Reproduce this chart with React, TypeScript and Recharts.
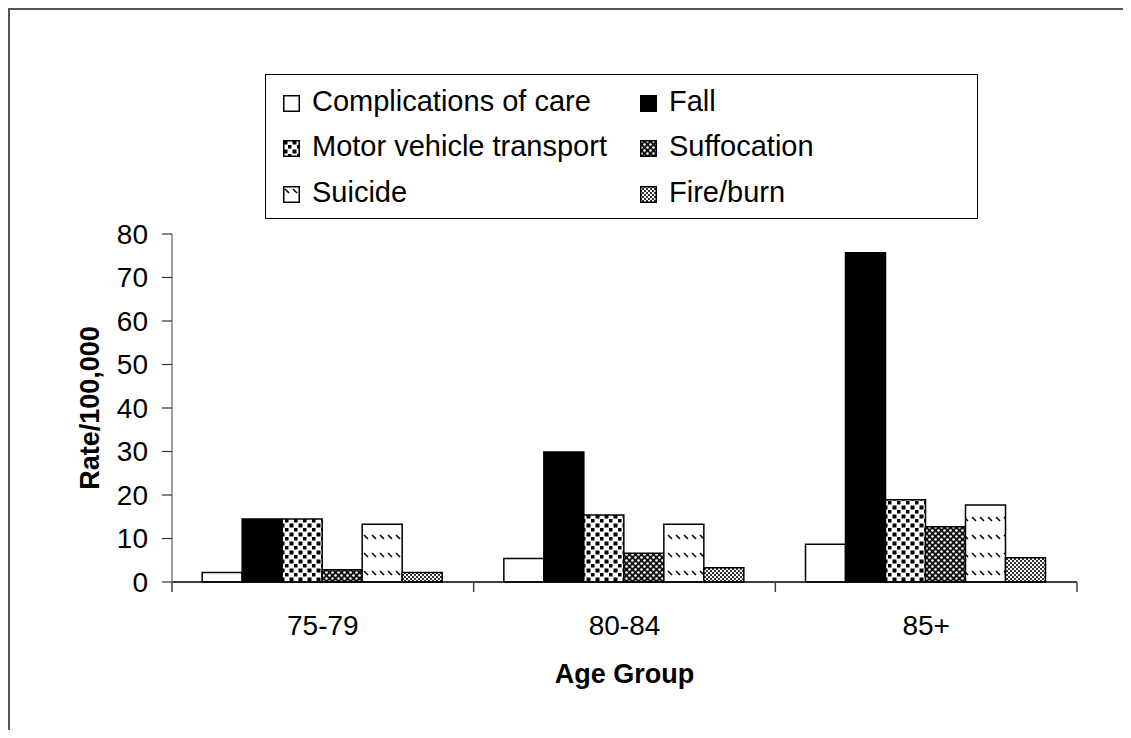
import React from 'react';
import { BarChart, Bar, XAxis, YAxis, Legend } from 'recharts';

const categories = ['75-79', '80-84', '85+'];
const complications = [2.2, 5.4, 8.7];
const fall = [14.5, 29.9, 75.7];
const motorVehicle = [14.5, 15.4, 18.9];
const suffocation = [2.8, 6.6, 12.7];
const suicide = [13.3, 13.3, 17.7];
const fireBurn = [2.2, 3.3, 5.6];
const yTicks = [0, 10, 20, 30, 40, 50, 60, 70, 80];

const series = [
  { key: 'complications', name: 'Complications of care', fill: '#ffffff' },
  { key: 'fall', name: 'Fall', fill: '#000000' },
  { key: 'motorVehicle', name: 'Motor vehicle transport', fill: 'url(#patMvt)' },
  { key: 'suffocation', name: 'Suffocation', fill: 'url(#patSuff)' },
  { key: 'suicide', name: 'Suicide', fill: 'url(#patSuicide)' },
  { key: 'fireBurn', name: 'Fire/burn', fill: 'url(#patFire)' },
];

const data = categories.map((age, i) => ({
  age,
  complications: complications[i],
  fall: fall[i],
  motorVehicle: motorVehicle[i],
  suffocation: suffocation[i],
  suicide: suicide[i],
  fireBurn: fireBurn[i],
}));

const FONT = '"Liberation Sans", Arial, sans-serif';

// legend order: left column, right column
const legendOrder = [
  ['complications', 'fall'],
  ['motorVehicle', 'suffocation'],
  ['suicide', 'fireBurn'],
];

function LegendBox() {
  const rowY = [26, 71, 117];
  const colX = [17, 374];
  return (
    <div
      style={{
        position: 'relative',
        width: 713,
        height: 145,
        boxSizing: 'border-box',
        border: '1px solid #000',
        background: '#fff',
        fontFamily: FONT,
        fontSize: 29,
        color: '#000',
      }}
    >
      {legendOrder.map((row, r) =>
        row.map((key, c) => {
          const s = series.find((d) => d.key === key)!;
          return (
            <div
              key={key}
              style={{
                position: 'absolute',
                left: colX[c],
                top: rowY[r] - 20,
                height: 40,
                display: 'flex',
                alignItems: 'center',
                whiteSpace: 'nowrap',
              }}
            >
              <svg width={17} height={17} style={{ marginRight: 12, marginTop: 4 }}>
                <rect x={0.75} y={0.75} width={15.5} height={15.5} fill={s.fill} stroke="#000" strokeWidth={1.5} />
              </svg>
              <span>{s.name}</span>
            </div>
          );
        })
      )}
    </div>
  );
}

function AgeTick(props: any) {
  const { x, y, payload, index, visibleTicksCount } = props;
  const half = payload.offset || 0;
  return (
    <g>
      <line x1={x - half} y1={y} x2={x - half} y2={y + 10} stroke="#444" strokeWidth={1.5} />
      {index === visibleTicksCount - 1 && (
        <line x1={x + half} y1={y} x2={x + half} y2={y + 10} stroke="#444" strokeWidth={1.5} />
      )}
      <text x={x} y={y + 53} textAnchor="middle" fontFamily={FONT} fontSize={28} fill="#000">
        {payload.value}
      </text>
    </g>
  );
}

export default function App() {
  return (
    <div
      style={{
        position: 'relative',
        width: 1115,
        height: 722,
        boxSizing: 'border-box',
        borderLeft: '2px solid #555',
        borderTop: '2px solid #555',
        background: '#fff',
      }}
    >
      {/* top frame line runs past the window edge */}
      <div style={{ position: 'absolute', left: 0, top: -2, width: 1113, height: 2, boxShadow: '8px 0 0 #555' }} />
      <BarChart
        width={1113}
        height={720}
        data={data}
        margin={{ top: 224, right: 46, bottom: 47, left: 0 }}
        barCategoryGap="10%"
        barGap={0}
      >
        <defs>
          <pattern id="patMvt" width={9} height={9} patternUnits="userSpaceOnUse">
            <rect width={9} height={9} fill="#fff" />
            <rect x={0.5} y={0.5} width={4} height={4} fill="#000" />
            <rect x={5} y={5} width={3.5} height={3.5} fill="#000" />
          </pattern>
          <pattern id="patSuff" width={6} height={6} patternUnits="userSpaceOnUse">
            <rect width={6} height={6} fill="#111" />
            <circle cx={1.5} cy={1.5} r={1.3} fill="#fff" />
            <circle cx={4.5} cy={4.5} r={1.3} fill="#fff" />
          </pattern>
          <pattern id="patSuicide" width={8} height={18} patternUnits="userSpaceOnUse">
            <rect width={8} height={18} fill="#fff" />
            <line x1={2} y1={3} x2={6} y2={7} stroke="#000" strokeWidth={1.6} />
          </pattern>
          <pattern id="patFire" width={4} height={4} patternUnits="userSpaceOnUse">
            <rect width={4} height={4} fill="#fff" />
            <rect x={0} y={0} width={2} height={2} fill="#333" />
            <rect x={2} y={2} width={2} height={2} fill="#333" />
          </pattern>
        </defs>
        <XAxis
          dataKey="age"
          height={101}
          stroke="#000"
          axisLine={{ stroke: '#000', strokeWidth: 1.5 }}
          tickLine={false}
          tickSize={0}
          tickMargin={0}
          interval={0}
          tick={<AgeTick />}
          label={(p: any) => {
            const vb = p.viewBox;
            return (
              <text
                x={vb.x + vb.width / 2}
                y={vb.y + vb.height}
                textAnchor="middle"
                fontFamily={FONT}
                fontSize={27}
                fontWeight="bold"
                fill="#000"
              >
                Age Group
              </text>
            );
          }}
        />
        <YAxis
          width={162}
          domain={[0, 80]}
          ticks={yTicks}
          interval={0}
          axisLine={{ stroke: '#808080', strokeWidth: 1.5 }}
          tickLine={{ stroke: '#333', strokeWidth: 1.2 }}
          tickSize={10}
          tickMargin={14}
          tick={{ fontFamily: FONT, fontSize: 28, fill: '#000' }}
          label={(p: any) => {
            const vb = p.viewBox;
            const cx = vb.x + 80;
            const cy = vb.y + vb.height / 2;
            return (
              <text
                x={cx}
                y={cy}
                transform={`rotate(-90, ${cx}, ${cy})`}
                textAnchor="middle"
                dominantBaseline="central"
                fontFamily={FONT}
                fontSize={27}
                fontWeight="bold"
                fill="#000"
              >
                Rate/100,000
              </text>
            );
          }}
        />
        <Legend
          layout="vertical"
          align="center"
          verticalAlign="middle"
          content={() => <LegendBox />}
          wrapperStyle={{ position: 'absolute', left: 255, top: 64, width: 713, height: 145 }}
        />
        {series.map((s) => (
          <Bar
            key={s.key}
            dataKey={s.key}
            name={s.name}
            fill={s.fill}
            stroke="#000"
            strokeWidth={1.5}
            isAnimationActive={false}
          />
        ))}
      </BarChart>
    </div>
  );
}
